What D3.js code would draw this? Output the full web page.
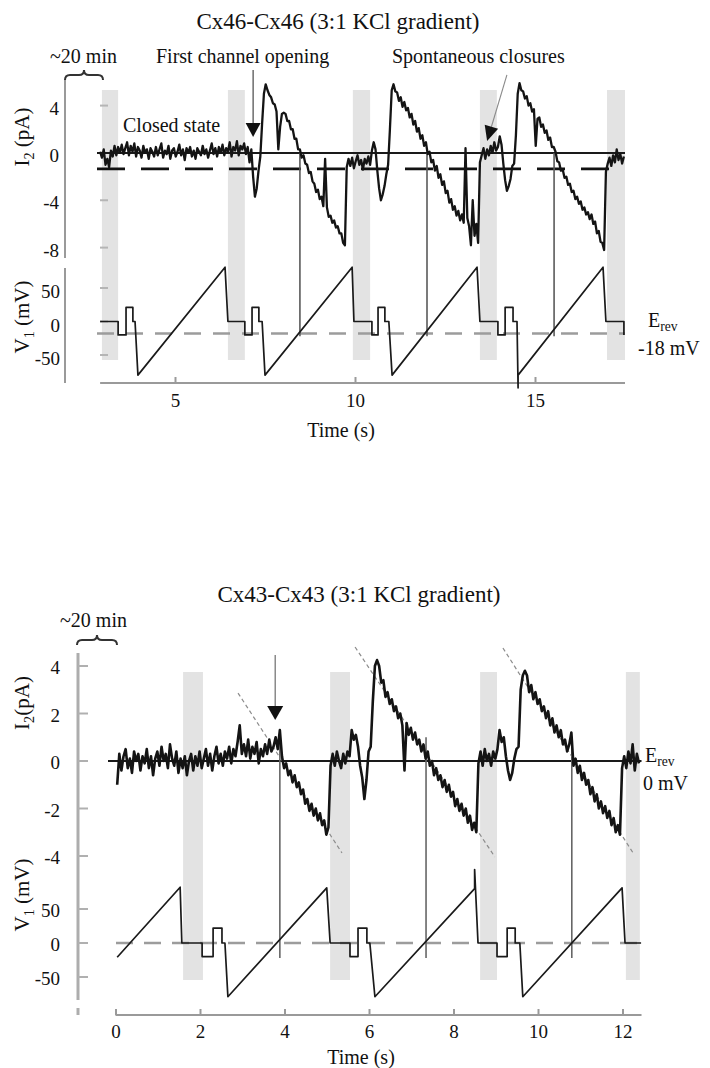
<!DOCTYPE html>
<html>
<head>
<meta charset="utf-8">
<script src="https://cdn.jsdelivr.net/npm/d3@7"></script>
<style>
  html, body { margin: 0; padding: 0; background: #fff; }
  svg { display: block; font-family: "Liberation Serif", "Times New Roman", serif; }
</style>
</head>
<body>
<svg id="fig" width="710" height="1068"></svg>
<script>
// ---------------- Cx46-Cx46 recording ----------------
const cx46TimeTicks = [5, 10, 15];
const cx46CurrentTicks = [4, 0, -4, -8];
const cx46VoltageTicks = [50, 0, -50];
// intervals (s) shaded grey
const cx46Shade = [[2.97, 3.42], [6.47, 6.94], [9.94, 10.42], [13.47, 13.94], [17.0, 17.5]];
// V1 command protocol breakpoints [s, mV]
const cx46Protocol = [
  [2.92, 0], [3.42, 0], [3.42, -20], [3.64, -20], [3.64, 21], [3.83, 21], [3.83, 0], [3.89, 0], [3.97, -80], [6.39, 81], [6.47, 0],
  [6.94, 0], [6.94, -20], [7.14, -20], [7.14, 21], [7.33, 21], [7.33, 0], [7.42, 0], [7.50, -80], [9.92, 81], [9.97, 0],
  [10.47, 0], [10.47, -20], [10.64, -20], [10.64, 21], [10.83, 21], [10.83, 0], [10.94, 0], [11.03, -80], [13.39, 81], [13.47, 0],
  [13.97, 0], [13.97, -20], [14.17, -20], [14.17, 21], [14.39, 21], [14.39, 0], [14.50, 0], [14.53, -99], [14.53, -80], [16.89, 81], [16.97, 0],
  [17.47, 0], [17.47, -20]
];
const cx46Erev = -18;          // mV
const cx46DashLevel = -1.35;   // pA
const cx46Crossings = [8.47, 12.0, 15.53];   // s, ramp passes E_rev
// I2 junctional current, sampled every cx46CurrentStep s from cx46CurrentStart
const cx46CurrentStart = 2.92, cx46CurrentStep = 0.05;
const cx46Current = [
  0.1, -0.4, 0.3, -1.0, -0.5, -1.2, 0.2, -0.3, 0.6, -0.2,
  0.5, 0.0, 0.7, -0.1, 0.4, 0.9, -0.2, 0.6, 0.1, 0.8,
  -0.3, 0.5, 0.2, -0.4, 0.6, 0.0, 0.3, -0.5, 0.4, 0.1,
  -0.3, 0.5, -0.2, 0.3, 0.8, -0.4, 0.2, -0.1, 0.6, -0.5,
  0.2, 0.4, -0.3, 0.1, 0.7, -0.2, 0.3, -0.6, 0.4, 0.0,
  0.5, -0.3, 0.2, -0.5, 0.4, 0.1, -0.2, 0.6, -0.1, 0.3,
  -0.4, 0.2, 0.8, -0.1, 0.4, -0.3, 0.5, 0.0, 0.7, -0.2,
  0.4, 0.1, 0.9, -0.3, 0.5, 0.2, 1.0, -0.2, 0.6, 0.3,
  0.8, -0.1, 0.5, -0.8, 0.3,
  -2.0, -3.7, -3.0, -1.5, -0.3, 2.5, 5.0, 5.8, 5.3, 4.9,
  4.7, 4.2, 4.1, 3.5, 0.3, 2.2, 3.3, 3.4, 3.3, 2.7,
  2.7, 2.0, 2.0, 1.2, 1.2, 0.3, 0.3, -0.4, -0.2, -0.9,
  -1.0, -1.7, -1.6, -2.4, -2.6, -3.3, -3.1, -3.9, -3.7, -4.5,
  -0.5, -4.6, -5.4, -5.3, -5.9, -5.7, -6.3, -6.2, -6.8, -6.8, -7.6, -7.8,
  -1.2, -0.5, -1.1, -0.4, -1.3, -0.7, -0.2, -1.0, -0.6, -1.4, -0.5, -0.9, -0.3,
  -1.0, 0.2, 0.9, 0.3, -1.5, -3.0, -4.0, -3.5, -2.8, -1.8, -1.0, 2.0, 5.3, 5.8, 5.2,
  5.1, 4.4, 4.7, 3.9, 4.3, 3.6, 3.8, 3.0, 3.3, 2.4,
  2.7, 1.8, 2.1, 1.2, 1.5, 0.6, 0.9, -0.1, 0.1, -0.8,
  -0.6, -1.5, -1.1, -2.1, -1.8, -2.7, -2.4, -3.4, -3.2, -4.2,
  -3.9, -4.8, -4.5, -5.3, -4.9, -5.7, -5.2, -5.9,
  0.4,
  -5.5, -6.2, -7.8, -4.0, -7.0, -6.0, -7.6,
  -0.8, -0.2, 0.4, -0.5, 0.3, -0.2, 0.6, 0.0, 0.9, 0.2,
  0.5, 1.4, 0.7, -0.9, -2.3, -3.2, -2.8, -2.2, -1.1, -0.9, 1.5, 5.0, 5.9, 5.3,
  5.2, 4.6, 4.8, 4.0, 4.2, 3.5, 3.7,
  0.6,
  2.9, 3.0, 2.2, 2.4, 1.7, 1.9, 1.1, 1.3, 0.5, 0.5,
  0.1, -0.7, -0.8, -1.5, -1.4, -2.1, -2.0, -2.7, -2.6, -3.3,
  -3.2, -3.9, -3.7, -4.3, -4.1, -4.8, -4.6, -5.2, -5.0, -5.6,
  -5.2, -6.0, -5.8, -6.8, -6.6, -7.5, -7.6, -8.2,
  -1.6, -0.9, -0.4, -1.1, -0.2, -0.8, 0.3, -0.6, -0.1, -0.9, -0.3
];

// ---------------- Cx43-Cx43 recording ----------------
const cx43TimeTicks = [0, 2, 4, 6, 8, 10, 12];
const cx43CurrentTicks = [4, 2, 0, -2, -4];
const cx43VoltageTicks = [50, 0, -50];
const cx43Shade = [[1.6, 2.07], [5.08, 5.55], [8.63, 9.03], [12.08, 12.41]];
const cx43Protocol = [
  [0.04, -21], [1.53, 82], [1.57, 0], [2.05, 0], [2.05, -20], [2.31, -20], [2.31, 22], [2.52, 22], [2.52, 0], [2.59, 0], [2.66, -79], [5.00, 81], [5.08, 0],
  [5.55, 0], [5.55, -20], [5.74, -20], [5.74, 22], [5.95, 22], [5.95, 0], [6.02, 0], [6.14, -79], [8.50, 80], [8.50, 108], [8.58, 0],
  [9.03, 0], [9.03, -20], [9.27, -20], [9.27, 22], [9.46, 22], [9.46, 0], [9.57, 0], [9.64, -79], [11.99, 81], [12.06, 0], [12.44, 0]
];
const cx43Erev = 0;            // mV
const cx43Crossings = [3.89, 7.35, 10.8];
// linear fits to the open-channel current during each ramp [[s, pA], [s, pA]]
const cx43Fits = [
  [[2.90, 2.86], [5.36, -3.87]],
  [[5.67, 4.80], [8.98, -4.04]],
  [[9.17, 4.76], [12.25, -3.87]]
];
const cx43CurrentStart = 0.04, cx43CurrentStep = 0.05;
const cx43Current = [
  -1.0, 0.3, -0.4, 0.2, 0.5, -0.3, 0.1, -0.5, 0.4, 0.0,
  0.3, -0.4, 0.2, -0.1, 0.5, -0.3, 0.2, -0.6, 0.1, 0.4,
  -0.2, 0.6, 0.0, 0.3, -0.3, 0.7, 0.1, -0.2, 0.4, -0.5,
  0.1, -0.3, 0.2, -0.6, 0.0, 0.3, -0.4, 0.2, -0.2, 0.4,
  -0.3, 0.1, 0.5, -0.2, 0.3, -0.4, 0.2, 0.6, -0.1, 0.3,
  -0.2, 0.4, 0.1, 0.6, -0.1, 0.5, 0.2, 0.8, 1.5, 0.3,
  0.7, 0.2, 0.9, 0.1, 0.6, 0.3, 0.8, -0.1, 0.5, 0.2,
  0.7, 0.3, 0.9, 0.4, 0.6, 1.0, 0.5, 1.3,
  0.2, -0.3, -0.1, -0.6, -0.4, -0.9, -0.6, -1.1, -0.9, -1.4, -1.2, -1.8, -1.6, -2.1, -1.8, -2.3, -2.0, -2.5, -2.2, -2.7, -2.5, -3.1, -2.8,
  -0.2, 0.3, -0.2, 0.4, 0.0, -0.3, 0.3, -0.1, 0.4, 0.2,
  1.3, 0.9, 1.1, 0.6, -0.2, -0.7, -1.6, -0.8, 0.4, 0.6, 2.5, 4.0,
  4.25,
  4.0, 3.3, 3.4, 2.7, 2.9, 2.4, 2.6, 2.1, 2.3, 1.8, 2.0, 1.5,
  -0.4,
  1.6, 1.1, 1.4, 0.9, 1.2, 0.7, 0.9, 0.4, 0.7, 0.1, 0.4, -0.2,
  0.0, -0.6, -0.3, -0.8, -0.6, -1.1, -0.8, -1.3, -1.0, -1.5, -1.3, -1.9,
  -1.6, -2.1, -1.8, -2.3, -2.0, -2.6, -2.3, -2.9, -2.6, -3.0,
  -0.1, 0.4, -0.2, 0.5, 0.0, 0.3, -0.2, 0.4, 0.1, 0.5,
  1.3, 0.8, 1.0, 0.2, -0.4, -0.8, -0.5, 0.1, 0.5, 0.6, 3.0, 3.6,
  3.8,
  3.6, 2.9, 3.2, 2.6, 2.9, 2.4, 2.6, 2.1, 2.3, 1.8, 2.1, 1.5,
  1.8, 1.2, 1.5, 1.0, 1.3, 0.7, 0.9, 0.4, 0.7,
  1.2,
  -0.2, 0.1, -0.5, -0.2, -0.8, -0.5, -1.0, -0.8, -1.4, -1.1, -1.7, -1.4,
  -2.0, -1.7, -2.2, -1.9, -2.4, -2.1, -2.7, -2.4, -3.0, -2.7, -3.1,
  -0.3, 0.2, -0.3, 0.4, -0.1, 0.7, -0.4, 0.3, -0.1
];

// ---------------- drawing ----------------
const svg = d3.select('#fig');
svg.append('rect').attr('width', 710).attr('height', 1068).attr('fill', '#fff');

const AXIS_GREY = '#9a9a9a';
const SHADE = '#e3e3e3';

function seg(g, x1, y1, x2, y2, stroke, width, dash) {
  const l = g.append('line').attr('x1', x1).attr('y1', y1).attr('x2', x2).attr('y2', y2)
    .attr('stroke', stroke).attr('stroke-width', width);
  if (dash) l.attr('stroke-dasharray', dash);
  return l;
}

// text with subscript runs: parts = [[text, isSub], ...]
function richText(g, x, y, parts, size, anchor, rotate) {
  const t = g.append('text').attr('x', x).attr('y', y).attr('font-size', size)
    .attr('text-anchor', anchor || 'start').attr('fill', '#111');
  if (rotate) t.attr('transform', `rotate(-90,${x},${y})`);
  let down = false;
  parts.forEach(([s, sub]) => {
    const ts = t.append('tspan').text(s);
    if (sub) { ts.attr('font-size', size * 0.68).attr('dy', size * 0.22); down = true; }
    else if (down) { ts.attr('dy', -size * 0.22); down = false; }
  });
  return t;
}

function arrow(g, x1, y1, x2, y2, stroke, lw, headLen, headW) {
  const a = Math.atan2(y2 - y1, x2 - x1);
  const bx = x2 - headLen * Math.cos(a), by = y2 - headLen * Math.sin(a);
  seg(g, x1, y1, bx, by, stroke, lw);
  const nx = -Math.sin(a) * headW / 2, ny = Math.cos(a) * headW / 2;
  g.append('path').attr('d', `M${x2},${y2}L${bx + nx},${by + ny}L${bx - nx},${by - ny}Z`).attr('fill', '#111');
}

function brace(g, x1, x2, y, h) {
  const m = (x1 + x2) / 2, r = 5;
  g.append('path')
    .attr('d', `M${x1},${y + h} Q${x1},${y} ${x1 + r},${y} L${m - r},${y} Q${m},${y} ${m},${y - h}` +
               ` Q${m},${y} ${m + r},${y} L${x2 - r},${y} Q${x2},${y} ${x2},${y + h}`)
    .attr('fill', 'none').attr('stroke', '#333').attr('stroke-width', 2);
}

function trace(g, x, y, start, step, values, width) {
  const line = d3.line().x((d, i) => x(start + i * step)).y(d => y(d));
  g.append('path').attr('d', line(values)).attr('fill', 'none')
    .attr('stroke', '#141414').attr('stroke-width', width).attr('stroke-linejoin', 'round');
}

function protocol(g, x, y, pts) {
  const line = d3.line().x(d => x(d[0])).y(d => y(d[1]));
  g.append('path').attr('d', line(pts)).attr('fill', 'none')
    .attr('stroke', '#1a1a1a').attr('stroke-width', 1.7).attr('stroke-linejoin', 'round');
}

function xAxis(g, x, ticks, yPos, pad) {
  const ax = g.append('g').attr('transform', `translate(0,${yPos})`)
    .call(d3.axisBottom(x).tickValues(ticks).tickSize(-6).tickPadding(pad).tickFormat(d3.format('d')));
  ax.select('.domain').remove();
  ax.selectAll('.tick line').attr('stroke', AXIS_GREY).attr('stroke-width', 2);
  ax.selectAll('.tick text').attr('font-size', 19).attr('fill', '#111')
    .attr('font-family', '"Liberation Serif", serif');
}

// ===== Cx46 panel =====
{
  const g = svg.append('g');
  const x = d3.scaleLinear().domain([5, 15]).range([175, 535]);
  const yI = d3.scaleLinear().domain([-8, 4]).range([247.6, 105.6]);
  const yV = d3.scaleLinear().domain([-50, 50]).range([355, 288]);
  const tEnd = 17.5, tStart = 2.92;

  cx46Shade.forEach(([a, b]) => g.append('rect').attr('x', x(a)).attr('width', x(b) - x(a))
    .attr('y', 90).attr('height', 270).attr('fill', SHADE));

  // left axis (broken between current and voltage)
  seg(g, 65, 80, 65, 258, AXIS_GREY, 2);
  seg(g, 65, 268, 65, 383, AXIS_GREY, 2);
  brace(g, 65, 103, 75, 5);

  cx46CurrentTicks.forEach(v => {
    seg(g, 100, yI(v), 108, yI(v), '#b5b5b5', 2);
    g.append('text').attr('x', 59).attr('y', yI(v) + 9).attr('text-anchor', 'end')
      .attr('font-size', 19).attr('fill', '#111').text(v);
  });
  cx46VoltageTicks.forEach(v => {
    seg(g, 100, yV(v), 108, yV(v), '#b5b5b5', 2);
    g.append('text').attr('x', 60).attr('y', yV(v) + 10).attr('text-anchor', 'end')
      .attr('font-size', 19).attr('fill', '#111').text(v);
  });

  // time axis
  seg(g, x(tStart), 383, x(tEnd), 383, AXIS_GREY, 2);
  xAxis(g, x, cx46TimeTicks, 383, 10.5);

  // reference levels
  seg(g, 97, yV(cx46Erev), x(tEnd), yV(cx46Erev), '#9c9c9c', 2.5, '17,12');
  seg(g, 97, yI(0), x(tEnd), yI(0), '#1a1a1a', 2);
  seg(g, 97, yI(cx46DashLevel), x(tEnd), yI(cx46DashLevel), '#111', 2.6, '28,16');

  // ramp crossings of E_rev
  cx46Crossings.forEach(t => seg(g, x(t), yI(0), x(t), yV(-22), '#5a5a5a', 1.6));

  trace(g, x, yI, cx46CurrentStart, cx46CurrentStep, cx46Current, 2.3);
  protocol(g, x, yV, cx46Protocol);

  // annotations
  arrow(g, x(7.17), yI(7.0), x(7.17), yI(1.35), '#555', 1.3, 14, 15);
  arrow(g, x(14.22), yI(6.6), x(13.67), yI(1.0), '#8a8a8a', 1.1, 15, 14);

  g.append('text').attr('x', 338).attr('y', 29).attr('text-anchor', 'middle')
    .attr('font-size', 23).attr('fill', '#111').text('Cx46-Cx46 (3:1 KCl gradient)');
  g.append('text').attr('x', 50).attr('y', 63).attr('font-size', 20).attr('fill', '#111').text('~20 min');
  g.append('text').attr('x', 156).attr('y', 63).attr('font-size', 20).attr('fill', '#111').text('First channel opening');
  g.append('text').attr('x', 392).attr('y', 63).attr('font-size', 20).attr('fill', '#111').text('Spontaneous closures');
  g.append('text').attr('x', 123).attr('y', 132).attr('font-size', 20).attr('fill', '#111').text('Closed state');

  richText(g, 29, 137, [['I'], ['2', true], [' (pA)']], 21, 'middle', true);
  richText(g, 29, 317, [['V'], ['1', true], [' (mV)']], 21, 'middle', true);
  richText(g, 648, 327, [['E'], ['rev', true]], 20, 'start');
  g.append('text').attr('x', 638).attr('y', 355).attr('font-size', 20).attr('fill', '#111').text('-18 mV');
  g.append('text').attr('x', 341).attr('y', 437).attr('text-anchor', 'middle')
    .attr('font-size', 20).attr('fill', '#111').text('Time (s)');
}

// ===== Cx43 panel =====
{
  const g = svg.append('g');
  const x = d3.scaleLinear().domain([0, 12]).range([115.5, 622.5]);
  const yI = d3.scaleLinear().domain([-4, 4]).range([856, 666]);
  const yV = d3.scaleLinear().domain([-50, 50]).range([977, 909]);
  const tEnd = 12.45;

  cx43Shade.forEach(([a, b]) => g.append('rect').attr('x', x(a)).attr('width', x(b) - x(a))
    .attr('y', 672).attr('height', 308).attr('fill', SHADE));

  seg(g, 78, 653, 78, 1000, '#adadad', 3);
  seg(g, 78, 1008, 78, 1015, '#adadad', 3);
  brace(g, 77, 117, 640, 5);

  cx43CurrentTicks.forEach(v => {
    seg(g, 78, yI(v), 88, yI(v), '#b0b0b0', 2);
    g.append('text').attr('x', 60).attr('y', yI(v) + 8).attr('text-anchor', 'end')
      .attr('font-size', 19).attr('fill', '#111').text(v);
  });
  cx43VoltageTicks.forEach(v => {
    seg(g, 78, yV(v), 88, yV(v), '#b0b0b0', 2);
    g.append('text').attr('x', 60).attr('y', yV(v) + 8).attr('text-anchor', 'end')
      .attr('font-size', 19).attr('fill', '#111').text(v);
  });

  seg(g, x(0), 1015, x(tEnd), 1015, AXIS_GREY, 2);
  xAxis(g, x, cx43TimeTicks, 1015, 9.5);

  seg(g, 116, yV(cx43Erev), x(tEnd), yV(cx43Erev), '#9c9c9c', 2.5, '17,11');
  seg(g, 108, yI(0), x(tEnd), yI(0), '#1a1a1a', 2);

  cx43Crossings.forEach(t => seg(g, x(t), yI(1.0), x(t), yV(-22), '#666', 1.6));
  cx43Fits.forEach(([a, b]) => seg(g, x(a[0]), yI(a[1]), x(b[0]), yI(b[1]), '#8c8c8c', 1.2, '4,3'));

  trace(g, x, yI, cx43CurrentStart, cx43CurrentStep, cx43Current, 2.6);
  protocol(g, x, yV, cx43Protocol);

  arrow(g, x(3.78), yI(4.46), x(3.78), yI(1.73), '#777', 1.3, 14, 16);

  g.append('text').attr('x', 359).attr('y', 602).attr('text-anchor', 'middle')
    .attr('font-size', 23).attr('fill', '#111').text('Cx43-Cx43 (3:1 KCl gradient)');
  g.append('text').attr('x', 60).attr('y', 627).attr('font-size', 20).attr('fill', '#111').text('~20 min');

  richText(g, 29, 703, [['I'], ['2', true], ['(pA)']], 21, 'middle', true);
  richText(g, 29, 895, [['V'], ['1', true], [' (mV)']], 21, 'middle', true);
  richText(g, 645, 762, [['E'], ['rev', true]], 20, 'start');
  g.append('text').attr('x', 643).attr('y', 790).attr('font-size', 20).attr('fill', '#111').text('0 mV');
  g.append('text').attr('x', 361).attr('y', 1064).attr('text-anchor', 'middle')
    .attr('font-size', 20).attr('fill', '#111').text('Time (s)');
}
</script>
</body>
</html>
